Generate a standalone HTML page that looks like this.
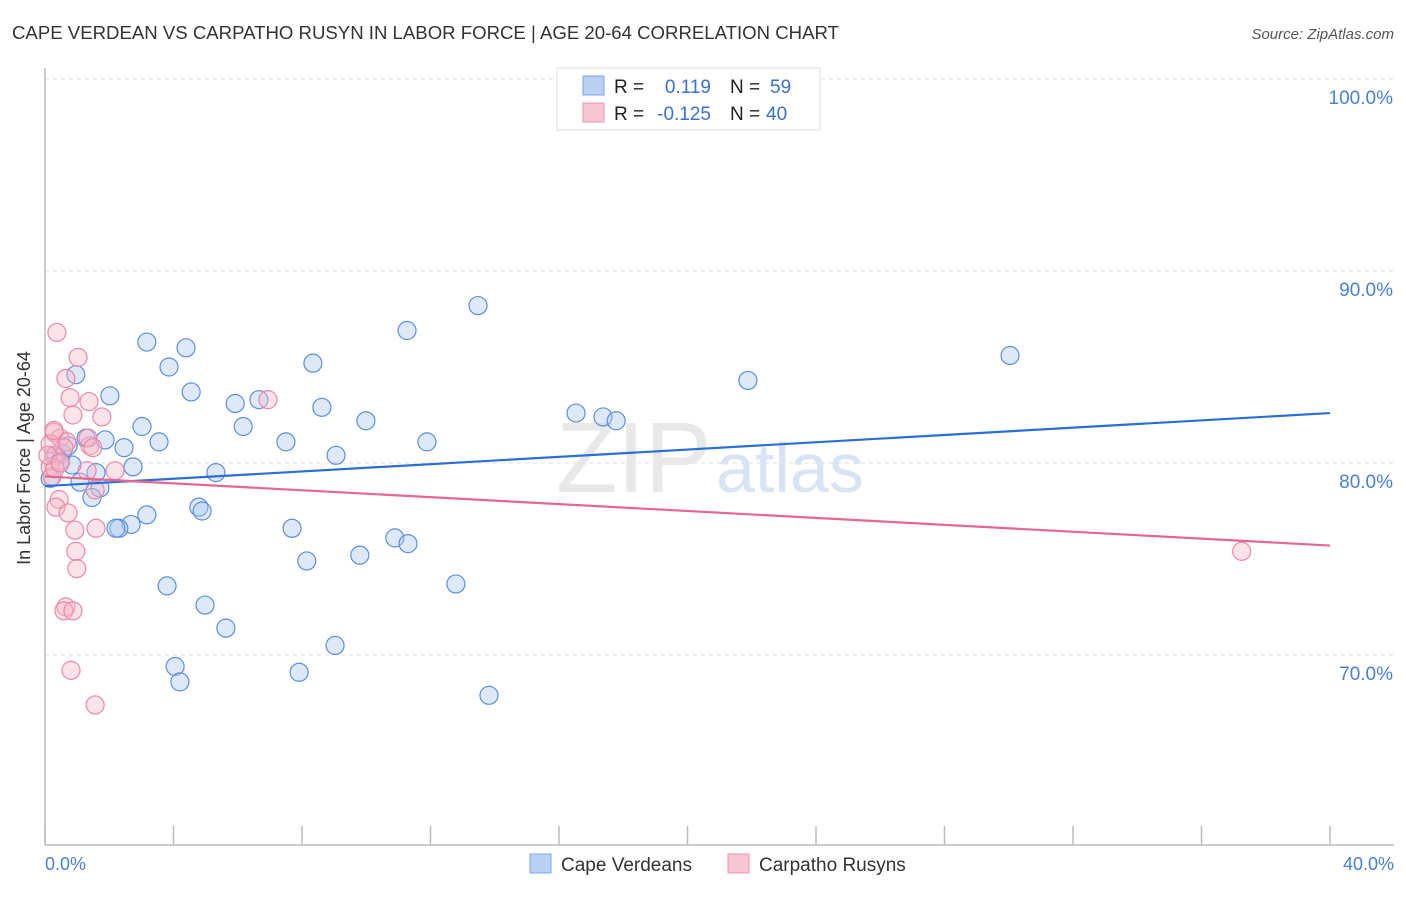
<!DOCTYPE html>
<html><head><meta charset="utf-8"><style>
body{margin:0;background:#fff;font-family:"Liberation Sans",sans-serif;}
svg text{font-family:"Liberation Sans",sans-serif;}
</style></head><body>
<svg id="chart" width="1406" height="892" xmlns="http://www.w3.org/2000/svg">
<text x="12" y="39" font-size="18.6" fill="#333">CAPE VERDEAN VS CARPATHO RUSYN IN LABOR FORCE | AGE 20-64 CORRELATION CHART</text>
<text x="1394" y="39" font-size="15" fill="#555" font-style="italic" text-anchor="end">Source: ZipAtlas.com</text>
<g id="grid"></g>
<line x1="45" y1="68" x2="45" y2="845" stroke="#bbb" stroke-width="1.5"/>
<line x1="45" y1="845" x2="1394" y2="845" stroke="#bbb" stroke-width="1.5"/>
<g id="xticks"></g>
<text x="556" y="492" font-size="100" fill="#e8e8e8" font-family="Liberation Serif">ZIP</text>
<text x="716" y="492" font-size="70" fill="#d8e4f4">atlas</text>
<text x="30" y="458" font-size="18" fill="#333" text-anchor="middle" transform="rotate(-90 30 458)">In Labor Force | Age 20-64</text>
<text x="45" y="870" font-size="18" fill="#4a7fd4">0.0%</text>
<text x="1394" y="870" font-size="18" fill="#4a7fd4" text-anchor="end">40.0%</text>
<g id="ylabels"></g>
<g id="pts"></g>
<g id="lines"></g>
<g>
<rect x="557" y="68" width="263" height="62" fill="#fff" stroke="#ddd"/>
<rect x="583" y="76" width="21" height="19" fill="#b8d1f3" stroke="#7aa6e6"/>
<rect x="583" y="103" width="21" height="19" fill="#f9c5d5" stroke="#ec93b0"/>
<text x="614" y="93" font-size="19" fill="#222">R =</text><text x="711" y="93" font-size="19" fill="#3a70d0" text-anchor="end">0.119</text>
<text x="730" y="93" font-size="19" fill="#222">N =</text><text x="770" y="93" font-size="19" fill="#3a70d0">59</text>
<text x="614" y="120" font-size="19" fill="#222">R =</text><text x="711" y="120" font-size="19" fill="#3a70d0" text-anchor="end">-0.125</text>
<text x="730" y="120" font-size="19" fill="#222">N =</text><text x="766" y="120" font-size="19" fill="#3a70d0">40</text>
</g>
<g>
<rect x="530" y="854" width="21" height="19" fill="#b8d1f3" stroke="#7aa6e6"/>
<text x="561" y="871" font-size="19" fill="#333">Cape Verdeans</text>
<rect x="728" y="854" width="21" height="19" fill="#f9c5d5" stroke="#ec93b0"/>
<text x="759" y="871" font-size="19" fill="#333">Carpatho Rusyns</text>
</g>
</svg>
<script>
const yTicks=[100,90,80,70];
const yTickLabels=["100.0%","90.0%","80.0%","70.0%"];
const xTicks=[0,4,8,12,16,20,24,28,32,36,40];
const blueX=[0.96,2.02,3.17,4.39,3.86,4.55,5.92,6.17,3.02,3.55,2.46,1.87,1.28,0.53,0.72,0.34,0.84,2.74,1.59,1.09,1.71,1.46,5.32,3.17,2.68,2.30,2.21,4.79,4.89,3.80,4.98,5.63,4.05,4.20,6.66,7.50,8.34,8.62,9.06,9.99,11.27,13.48,11.89,7.69,8.15,9.80,10.89,11.30,12.79,9.03,7.91,13.82,16.53,17.37,17.78,21.88,30.04,0.16,0.47];
const blueY=[84.6,83.5,86.3,86.0,85.0,83.7,83.1,81.9,81.9,81.1,80.8,81.2,81.3,80.5,80.9,80.4,79.9,79.8,79.5,79.0,78.7,78.2,79.5,77.3,76.8,76.6,76.6,77.7,77.5,73.6,72.6,71.4,69.4,68.6,83.3,81.1,85.2,82.9,80.4,82.2,86.9,88.2,81.1,76.6,74.9,75.2,76.1,75.8,73.7,70.5,69.1,67.9,82.6,82.4,82.2,84.3,85.6,79.2,80.1];
const pinkX=[0.37,1.03,0.65,0.78,1.37,1.77,0.87,0.28,0.47,0.68,1.40,0.59,0.28,0.47,0.16,0.22,1.31,2.18,1.56,0.44,0.34,0.72,0.93,1.59,0.96,0.99,0.65,0.59,0.87,0.81,1.56,6.94,37.25,1.34,0.16,0.28,0.31,0.09,0.47,1.49];
const pinkY=[86.8,85.5,84.4,83.4,83.2,82.4,82.5,81.6,81.3,81.1,80.9,80.8,80.4,80.0,79.8,79.3,79.6,79.6,78.6,78.1,77.7,77.4,76.5,76.6,75.4,74.5,72.5,72.3,72.3,69.2,67.4,83.3,75.4,81.3,81.0,81.7,79.7,80.4,80.0,80.8];
const blueTrend=[78.8,82.6], pinkTrend=[79.3,75.7];
const X=v=>45+v/40*1285, Y=v=>79+(100-v)*19.2;
const NS="http://www.w3.org/2000/svg";
function mk(tag,attrs,parent){const e=document.createElementNS(NS,tag);for(const k in attrs)e.setAttribute(k,attrs[k]);document.getElementById(parent).appendChild(e);return e;}
yTicks.forEach((t,i)=>{
 const l=mk('line',{x1:45,x2:1394,y1:Y(t),y2:Y(t),stroke:'#ddd','stroke-dasharray':'4 4'},'grid');
 
 
 const tx=mk('text',{x:1393,y:Y(t)+25,'font-size':19,fill:'#4a7fd4','text-anchor':'end'},'ylabels');
 tx.textContent=yTickLabels[i];
 
 
});
xTicks.forEach(t=>{
 const l=mk('line',{x1:X(t),x2:X(t),y1:826,y2:845,stroke:'#bbb','stroke-width':1.5},'xticks');
 
 
});
function pts(xs,ys,fill,stroke,name){
 xs.forEach((x,i)=>{
  const c=mk('circle',{cx:X(x),cy:Y(ys[i]),r:9,fill:fill,'fill-opacity':0.4,stroke:stroke,'stroke-width':1.2},'pts');
  
  
 });
}
pts(blueX,blueY,'#a9c8f0','#5b8fdc','cape-verdean-point');
pts(pinkX,pinkY,'#f7b6c9','#e889a8','carpatho-rusyn-point');
const bl=mk('line',{x1:X(0),y1:Y(blueTrend[0]),x2:X(40),y2:Y(blueTrend[1]),stroke:'#2a6fd6','stroke-width':2.2},'lines');


const pl=mk('line',{x1:X(0),y1:Y(pinkTrend[0]),x2:X(40),y2:Y(pinkTrend[1]),stroke:'#e5668f','stroke-width':2.2},'lines');


</script>
</body></html>
